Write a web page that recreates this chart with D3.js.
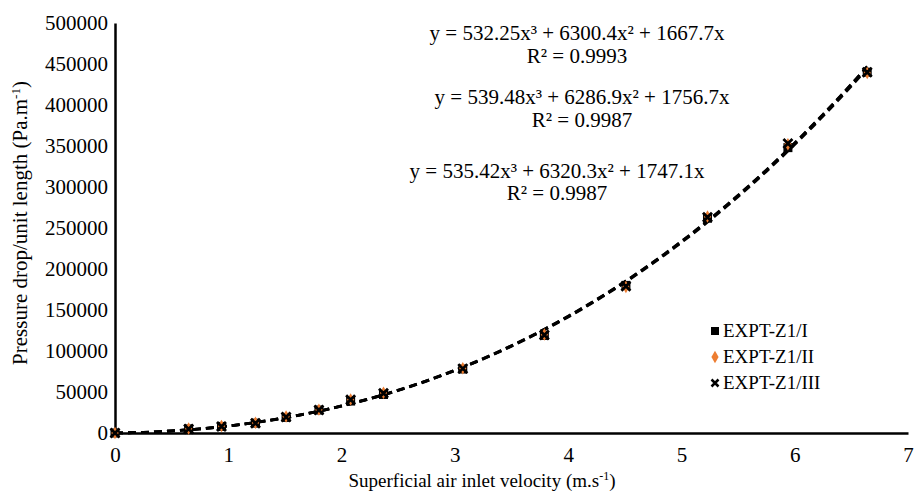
<!DOCTYPE html>
<html>
<head>
<meta charset="utf-8">
<script src="https://cdn.jsdelivr.net/npm/d3@7"></script>
<style>
  html, body { margin: 0; padding: 0; background: #fff; }
  svg text { font-family: "Liberation Serif", "DejaVu Serif", serif !important; fill: #000; }
</style>
</head>
<body>
<svg id="chart" width="914" height="491"></svg>
<script>
"use strict";

// Data
const VELOCITY = [0, 0.65, 0.94, 1.24, 1.51, 1.80, 2.08, 2.37, 3.07, 3.79, 4.51, 5.23, 5.94, 6.64];
const EXPT_I = [0, 5000, 8000, 12000, 19000, 28000, 39000, 47000, 78000, 119000, 180000, 262000, 348000, 440000];
const EXPT_II = [0, 5500, 8500, 12500, 20000, 28500, 41000, 49000, 79000, 120000, 178000, 264000, 352000, 439000];
const EXPT_III = [0, 5000, 8000, 12000, 19500, 28000, 40500, 48500, 78500, 119500, 179000, 263000, 353000, 440000];
const SERIES_NAMES = ["EXPT-Z1/I", "EXPT-Z1/II", "EXPT-Z1/III"];
const FIT_COEFFS = [[532.25, 6300.4, 1667.7], [539.48, 6286.9, 1756.7], [535.42, 6320.3, 1747.1]];
const FIT_LABELS = [
  ["y = 532.25x³ + 6300.4x² + 1667.7x", "R² = 0.9993"],
  ["y = 539.48x³ + 6286.9x² + 1756.7x", "R² = 0.9987"],
  ["y = 535.42x³ + 6320.3x² + 1747.1x", "R² = 0.9987"]
];
const X_TICKS = [0, 1, 2, 3, 4, 5, 6, 7];
const Y_TICKS = d3.range(0, 500001, 50000);

// Layout
const LEFT = 115, RIGHT = 908, TOP = 23, BOTTOM = 433;
const FONT = 19;      // x title, legend
const FONT_BIG = 21;  // tick labels, equations, y title

const svg = d3.select("#chart");

const x = d3.scaleLinear().domain([0, 7]).range([LEFT, RIGHT]);
const y = d3.scaleLinear().domain([0, 500000]).range([BOTTOM, TOP]);

// Axes (lines + labels only, no tick marks)
const xAxis = svg.append("g")
  .attr("transform", "translate(0," + BOTTOM + ")")
  .call(d3.axisBottom(x).tickValues(X_TICKS).tickSize(0).tickPadding(14).tickFormat(d3.format("d")))
  .attr("font-family", null).attr("font-size", null);
xAxis.select(".domain").attr("stroke", "#000").attr("stroke-width", 2.5);
xAxis.selectAll("text").style("font-size", FONT_BIG + "px");

const yAxis = svg.append("g")
  .attr("transform", "translate(" + LEFT + ",0)")
  .call(d3.axisLeft(y).tickValues(Y_TICKS).tickSize(0).tickPadding(7).tickFormat(d3.format("d")))
  .attr("font-family", null).attr("font-size", null);
yAxis.select(".domain").attr("stroke", "#000").attr("stroke-width", 2.5);
yAxis.selectAll("text").style("font-size", FONT_BIG + "px");

// Axis titles
const xTitle = svg.append("text")
  .attr("x", 482)
  .attr("y", 487)
  .attr("text-anchor", "middle")
  .style("font-size", FONT + "px");
xTitle.append("tspan").text("Superficial air inlet velocity (m.s");
xTitle.append("tspan").attr("baseline-shift", "super").style("font-size", "12px").text("-1");
xTitle.append("tspan").text(")");

const yTitle = svg.append("text")
  .attr("transform", "translate(27,223) rotate(-90)")
  .attr("text-anchor", "middle")
  .style("font-size", FONT_BIG + "px");
yTitle.append("tspan").text("Pressure drop/unit length (Pa.m");
yTitle.append("tspan").attr("baseline-shift", "super").style("font-size", "13px").text("-1");
yTitle.append("tspan").text(")");

// Trendlines (polynomial fits shown in the chart)
const xMax = d3.max(VELOCITY);
const samples = d3.range(0, xMax, 0.05).concat([xMax]);
const line = d3.line().x(d => x(d[0])).y(d => y(d[1]));
FIT_COEFFS.forEach(function(c) {
  const pts = samples.map(v => [v, c[0] * v * v * v + c[1] * v * v + c[2] * v]);
  svg.append("path")
    .datum(pts)
    .attr("d", line)
    .attr("fill", "none")
    .attr("stroke", "#000")
    .attr("stroke-width", 2.8)
    .attr("stroke-dasharray", "8,5");
});

// Markers
const gPts = svg.append("g");
gPts.selectAll("rect.s1").data(VELOCITY).join("rect")
  .attr("class", "s1")
  .attr("x", (d) => x(d) - 4.5).attr("y", (d, i) => y(EXPT_I[i]) - 4.5)
  .attr("width", 9).attr("height", 9).attr("fill", "#000");

const diamond = d3.symbol().type(d3.symbolDiamond).size(45);
gPts.selectAll("path.s2").data(VELOCITY).join("path")
  .attr("class", "s2")
  .attr("d", diamond)
  .attr("transform", (d, i) => "translate(" + x(d) + "," + y(EXPT_II[i]) + ")")
  .attr("fill", "#ed7d31");

function cross(s) {
  return "M" + -s + "," + -s + "L" + s + "," + s + "M" + -s + "," + s + "L" + s + "," + -s;
}
gPts.selectAll("path.s3").data(VELOCITY).join("path")
  .attr("class", "s3")
  .attr("d", cross(4.5))
  .attr("transform", (d, i) => "translate(" + x(d) + "," + y(EXPT_III[i]) + ")")
  .attr("stroke", "#000").attr("stroke-width", 2.8).attr("fill", "none");

// Equation labels
const EQ_POS = [[577, 40, 63], [582, 104, 127], [557, 178, 200]];
FIT_LABELS.forEach(function(lbl, i) {
  lbl.forEach(function(t, j) {
    svg.append("text")
      .attr("x", EQ_POS[i][0])
      .attr("y", EQ_POS[i][j + 1])
      .attr("text-anchor", "middle")
      .style("font-size", FONT_BIG + "px")
      .text(t);
  });
});

// Legend
const LEG_X = 715, LEG_Y = [331, 357, 383];
const leg = svg.append("g");
leg.append("rect").attr("x", LEG_X - 4).attr("y", LEG_Y[0] - 4).attr("width", 8).attr("height", 8).attr("fill", "#000");
leg.append("path").attr("d", diamond).attr("transform", "translate(" + LEG_X + "," + LEG_Y[1] + ")").attr("fill", "#ed7d31");
leg.append("path").attr("d", cross(3.5)).attr("transform", "translate(" + LEG_X + "," + LEG_Y[2] + ")")
  .attr("stroke", "#000").attr("stroke-width", 2.5);
SERIES_NAMES.forEach(function(n, i) {
  leg.append("text")
    .attr("x", LEG_X + 8)
    .attr("y", LEG_Y[i] + 6)
    .style("font-size", FONT + "px")
    .text(n);
});
</script>
</body>
</html>
